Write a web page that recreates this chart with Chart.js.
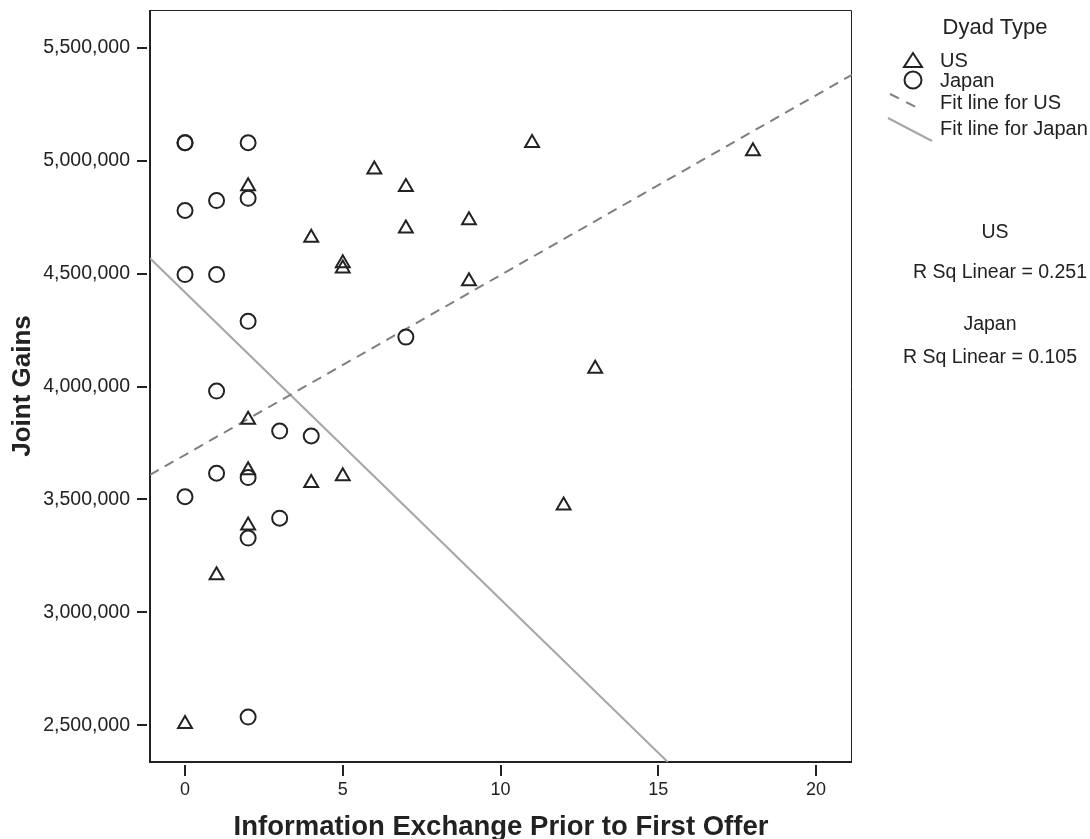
<!DOCTYPE html>
<html>
<head>
<meta charset="utf-8">
<script src="https://cdn.jsdelivr.net/npm/chart.js@4.4.0/dist/chart.umd.min.js"></script>
<style>
html,body{margin:0;padding:0;background:#fff;}
#wrap{position:relative;width:1090px;height:839px;overflow:hidden;}
#c{position:absolute;left:0;top:0;}
.t{position:absolute;font-family:'Liberation Sans',Arial,sans-serif;color:#222;white-space:nowrap;line-height:1;transform:translateY(-50%);}
.c{transform:translate(-50%,-50%);}
svg{position:absolute;left:0;top:0;}
</style>
</head>
<body>
<div id="wrap">
<canvas id="c" width="1090" height="839"></canvas>
<svg width="1090" height="839">
  <polygon points="904,67 922,67 913,53" fill="none" stroke="#222" stroke-width="2"/>
  <circle cx="913" cy="80" r="8.5" fill="none" stroke="#222" stroke-width="2"/>
  <line x1="890" y1="94" x2="918" y2="108" stroke="#7f7f7f" stroke-width="2" stroke-dasharray="10,8"/>
  <line x1="888" y1="118" x2="932" y2="141" stroke="#a6a6a6" stroke-width="2"/>
</svg>
<div class="t c" style="left:995px;top:27px;font-size:22px">Dyad Type</div>
<div class="t" style="left:940px;top:60px;font-size:20px">US</div>
<div class="t" style="left:940px;top:80px;font-size:20px">Japan</div>
<div class="t" style="left:940px;top:102px;font-size:20px">Fit line for US</div>
<div class="t" style="left:940px;top:128px;font-size:20px">Fit line for Japan</div>
<div class="t c" style="left:995px;top:232px;font-size:19.5px">US</div>
<div class="t c" style="left:1000px;top:272px;font-size:19.5px">R Sq Linear = 0.251</div>
<div class="t c" style="left:990px;top:324px;font-size:19.5px">Japan</div>
<div class="t c" style="left:990px;top:357px;font-size:19.5px">R Sq Linear = 0.105</div>
</div>
<script>
// ---- data ----
const usX = [0, 1, 2, 2, 2, 2, 4, 4, 5, 5, 5, 6, 7, 7, 9, 9, 11, 12, 13, 18];
const usY = [2505000, 3164000, 3385000, 3629000, 3853000, 4887000, 3573000, 4659000, 3603000, 4546000,
             4523000, 4962000, 4884000, 4700000, 4737000, 4467000, 5079000, 3473000, 4079000, 5042000];
const japanX = [0, 0, 0, 0, 0, 1, 1, 1, 1, 2, 2, 2, 2, 2, 2, 3, 3, 4, 7];
const japanY = [5080000, 5080000, 4780000, 4496000, 3512000, 4824000, 4496000, 3980000, 3616000, 5080000,
                4834000, 4289000, 3597000, 3329000, 2536000, 3803000, 3417000, 3781000, 4219000];
const usFitX = [-1.11, 21.14];
const usFitY = [3609000, 5381000];
const japanFitX = [-1.11, 15.30];
const japanFitY = [4568000, 2337000];
const xTicks = [0, 5, 10, 15, 20];
const xTickLabels = ['0', '5', '10', '15', '20'];
const yTicks = [2500000, 3000000, 3500000, 4000000, 4500000, 5000000, 5500000];
const yTickLabels = ['2,500,000', '3,000,000', '3,500,000', '4,000,000', '4,500,000', '5,000,000', '5,500,000'];
const xRange = [-1.11, 21.14];
const yRange = [2337000, 5668000];
const xTitle = 'Information Exchange Prior to First Offer';
const yTitle = 'Joint Gains';

const pts = (xs, ys) => xs.map((v, i) => ({x: v, y: ys[i]}));

const framePlugin = {
  id: 'frame',
  beforeDatasetsDraw(chart) {
    const {ctx, chartArea: a, scales: {x, y}} = chart;
    ctx.save();
    ctx.strokeStyle = '#222';
    ctx.lineWidth = 1;
    ctx.beginPath();
    ctx.moveTo(a.left, a.top + 0.5);
    ctx.lineTo(a.right - 0.5, a.top + 0.5);
    ctx.lineTo(a.right - 0.5, a.bottom);
    ctx.stroke();
    ctx.lineWidth = 2;
    ctx.beginPath();
    ctx.moveTo(a.left, a.top);
    ctx.lineTo(a.left, a.bottom);
    ctx.lineTo(a.right, a.bottom);
    ctx.stroke();
    ctx.beginPath();
    y.ticks.forEach(t => {
      const py = Math.round(y.getPixelForValue(t.value));
      ctx.moveTo(a.left - 3, py); ctx.lineTo(a.left - 13, py);
    });
    x.ticks.forEach(t => {
      const px = Math.round(x.getPixelForValue(t.value));
      ctx.moveTo(px, a.bottom + 3); ctx.lineTo(px, a.bottom + 14);
    });
    ctx.stroke();
    ctx.restore();
  }
};

new Chart(document.getElementById('c'), {
  type: 'scatter',
  data: {
    datasets: [
      {label: 'US', data: pts(usX, usY), pointStyle: 'triangle', pointRadius: 8, pointBorderWidth: 2,
       borderColor: '#222', backgroundColor: 'rgba(0,0,0,0)', pointHoverRadius: 8},
      {label: 'Japan', data: pts(japanX, japanY), pointStyle: 'circle', pointRadius: 7.5, pointBorderWidth: 2,
       borderColor: '#222', backgroundColor: 'rgba(0,0,0,0)', pointHoverRadius: 7.5},
      {label: 'Fit line for US', data: pts(usFitX, usFitY), showLine: true, pointRadius: 0, borderColor: '#7f7f7f',
       borderWidth: 2, borderDash: [10, 7], fill: false},
      {label: 'Fit line for Japan', data: pts(japanFitX, japanFitY), showLine: true, pointRadius: 0, borderColor: '#a6a6a6',
       borderWidth: 2, fill: false}
    ]
  },
  options: {
    responsive: false,
    animation: false,
    events: [],
    layout: {padding: {left: 0, right: 238, top: 8, bottom: 0}},
    plugins: {legend: {display: false}, tooltip: {enabled: false}},
    scales: {
      x: {
        type: 'linear', min: xRange[0], max: xRange[1],
        afterBuildTicks: s => { s.ticks = xTicks.map(v => ({value: v})); },
        afterFit: s => { s.height = 77; s.paddingLeft = 0; s.paddingRight = 0; },
        grid: {display: false, drawTicks: false},
        border: {display: false},
        ticks: {padding: 17, color: '#222', font: {family: "'Liberation Sans', Arial, sans-serif", size: 18},
                callback: (v) => xTickLabels[xTicks.indexOf(v)] ?? ''},
        title: {display: true, text: xTitle, color: '#222', padding: {top: 0, bottom: 0},
                font: {family: "'Liberation Sans', Arial, sans-serif", size: 27.5, weight: 'bold', lineHeight: 0.82}}
      },
      y: {
        type: 'linear', min: yRange[0], max: yRange[1],
        afterBuildTicks: s => { s.ticks = yTicks.map(v => ({value: v})); },
        afterFit: s => { s.width = 150; s.paddingTop = 0; s.paddingBottom = 0; },
        grid: {display: false, drawTicks: false},
        border: {display: false},
        ticks: {padding: 20, color: '#222', font: {family: "'Liberation Sans', Arial, sans-serif", size: 19.5},
                callback: (v) => yTickLabels[yTicks.indexOf(v)] ?? ''},
        title: {display: true, text: yTitle, color: '#222', padding: {top: 7, bottom: 0},
                font: {family: "'Liberation Sans', Arial, sans-serif", size: 26, weight: 'bold', lineHeight: 1.2}}
      }
    }
  },
  plugins: [framePlugin]
});
</script>
</body>
</html>
